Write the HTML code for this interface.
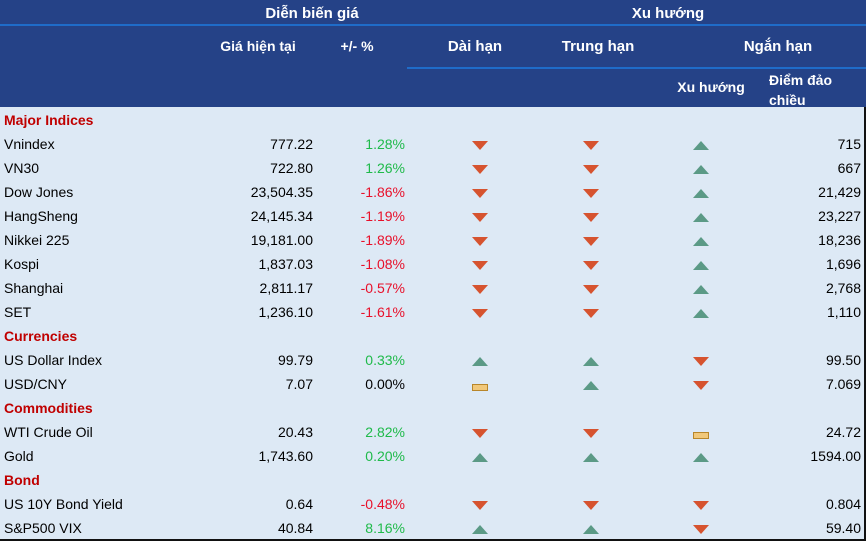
<!DOCTYPE html>
<html><head><meta charset="utf-8"><style>
body{margin:0;width:866px;height:541px;overflow:hidden;background:#dde9f5;font-family:"Liberation Sans",Arial,sans-serif;}
#wrap{position:relative;width:866px;height:541px;box-sizing:border-box;border-right:2px solid #111;border-bottom:2px solid #111;}
#hdr{position:absolute;left:0;top:0;width:866px;height:107px;background:#254287;}
.h{position:absolute;color:#fff;font-weight:bold;font-size:15px;white-space:nowrap;transform:translateX(-50%);}
.ln{position:absolute;height:2px;background:#1f6cc9;}
.t{position:absolute;font-size:14px;white-space:nowrap;color:#000;}
.r{transform:translateX(-100%);}
.sec{color:#c00000;font-weight:bold;}
.pos{color:#1fba4a}.neg{color:#e8102a}
.ic{position:absolute;width:0;height:0;transform:translateX(-50%);}
.dn{border-left:8px solid transparent;border-right:8px solid transparent;border-top:9px solid #d6532f;}
.up{border-left:8px solid transparent;border-right:8px solid transparent;border-bottom:9px solid #5b9a86;}
.fl{width:14px;height:5px;background:#f1c87a;border:1px solid #b8862a;}
</style></head><body>
<div id="wrap">
<div id="hdr">
<div class="h" style="left:312px;top:5px">Diễn biến giá</div>
<div class="h" style="left:668px;top:5px">Xu hướng</div>
<div class="ln" style="left:0;top:24px;width:866px"></div>
<div class="h" style="left:258px;top:38px;font-size:14px">Giá hiện tại</div>
<div class="h" style="left:357px;top:38px;font-size:14px">+/- %</div>
<div class="h" style="left:475px;top:38px">Dài hạn</div>
<div class="h" style="left:598px;top:38px">Trung hạn</div>
<div class="h" style="left:778px;top:38px">Ngắn hạn</div>
<div class="ln" style="left:407px;top:67px;width:459px"></div>
<div class="h" style="left:711px;top:79px;font-size:14px">Xu hướng</div>
<div class="h" style="left:769px;top:70px;font-size:14px;transform:none;line-height:20px">Điểm đảo<br>chiều</div>
</div>
<div id="rows"></div>
</div>
<script>
const rows=[
["s","Major Indices"],
["Vnindex","777.22","1.28%","d","d","u","715"],
["VN30","722.80","1.26%","d","d","u","667"],
["Dow Jones","23,504.35","-1.86%","d","d","u","21,429"],
["HangSheng","24,145.34","-1.19%","d","d","u","23,227"],
["Nikkei 225","19,181.00","-1.89%","d","d","u","18,236"],
["Kospi","1,837.03","-1.08%","d","d","u","1,696"],
["Shanghai","2,811.17","-0.57%","d","d","u","2,768"],
["SET","1,236.10","-1.61%","d","d","u","1,110"],
["s","Currencies"],
["US Dollar Index","99.79","0.33%","u","u","d","99.50"],
["USD/CNY","7.07","0.00%","f","u","d","7.069"],
["s","Commodities"],
["WTI Crude Oil","20.43","2.82%","d","d","f","24.72"],
["Gold","1,743.60","0.20%","u","u","u","1594.00"],
["s","Bond"],
["US 10Y Bond Yield","0.64","-0.48%","d","d","d","0.804"],
["S&P500 VIX","40.84","8.16%","u","u","d","59.40"]];
const box=document.getElementById('rows');
const icx=[480,591,701];
rows.forEach((r,i)=>{
 const y=112+i*24;
 const mk=(cls,x,txt)=>{const e=document.createElement('div');e.className='t '+cls;e.style.left=x+'px';e.style.top=y+'px';e.textContent=txt;box.appendChild(e);return e;};
 if(r[0]==='s'){const e=mk('sec',4,r[1]);
 
 return;}
 const n=mk('',4,r[0]);
 
 
 const p=mk('r',313,r[1]);
 
 
 const v=parseFloat(r[2]);
 const c=mk('r '+(v>0?'pos':v<0?'neg':''),405,r[2]);
 
 
 for(let k=0;k<3;k++){const e=document.createElement('div');const s=r[3+k];
  e.className='ic '+(s==='d'?'dn':s==='u'?'up':'fl');
  e.style.left=icx[k]+'px';e.style.top=(y+(s==='f'?8:5))+'px';
  
  
  box.appendChild(e);}
 const q=mk('r',861,r[6]);
 
 
});
</script>
</body></html>
